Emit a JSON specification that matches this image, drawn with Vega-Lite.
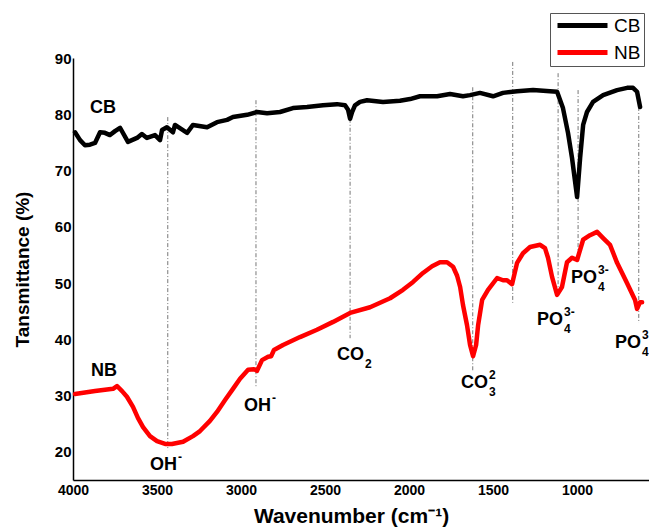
{
  "$schema": "https://vega.github.io/schema/vega-lite/v6.json",
  "width": 576,
  "height": 422,
  "autosize": {"type": "none"},
  "padding": {"left": 73, "top": 58, "right": 0, "bottom": 48},
  "background": "white",
  "config": {
    "view": {"stroke": null},
    "font": "Liberation Sans",
    "axis": {
      "grid": false, "ticks": false, "domainColor": "#000", "domainWidth": 1.5,
      "labelFont": "Liberation Sans", "labelFontWeight": "bold", "labelFontSize": 14, "labelColor": "#000",
      "titleFont": "Liberation Sans", "titleFontWeight": "bold", "titleFontSize": 19, "titleColor": "#000"
    },
    "legend": {
      "orient": "none", "legendX": 477, "legendY": -45, "strokeColor": "#555", "padding": 3,
      "symbolType": "M-1,0H9", "symbolSize": 100, "symbolStrokeWidth": 5, "symbolOffset": 0,
      "labelOffset": 42, "rowPadding": 6,
      "labelFont": "Liberation Sans", "labelFontSize": 19, "labelColor": "#000", "title": null
    }
  },
  "datasets": {
    "spectra": [
      {"series":"CB","wavenumber":3988,"transmittance":76.8},{"series":"CB","wavenumber":3958,"transmittance":75.4},{"series":"CB","wavenumber":3929,"transmittance":74.5},{"series":"CB","wavenumber":3899,"transmittance":74.6},{"series":"CB","wavenumber":3869,"transmittance":74.9},{"series":"CB","wavenumber":3839,"transmittance":76.8},{"series":"CB","wavenumber":3810,"transmittance":76.7},{"series":"CB","wavenumber":3780,"transmittance":76.3},{"series":"CB","wavenumber":3750,"transmittance":77.0},{"series":"CB","wavenumber":3720,"transmittance":77.6},{"series":"CB","wavenumber":3673,"transmittance":75.1},{"series":"CB","wavenumber":3619,"transmittance":75.8},{"series":"CB","wavenumber":3590,"transmittance":76.5},{"series":"CB","wavenumber":3560,"transmittance":75.8},{"series":"CB","wavenumber":3512,"transmittance":76.3},{"series":"CB","wavenumber":3482,"transmittance":75.4},{"series":"CB","wavenumber":3470,"transmittance":77.2},{"series":"CB","wavenumber":3441,"transmittance":77.7},{"series":"CB","wavenumber":3405,"transmittance":76.8},{"series":"CB","wavenumber":3393,"transmittance":78.1},{"series":"CB","wavenumber":3321,"transmittance":76.7},{"series":"CB","wavenumber":3286,"transmittance":78.1},{"series":"CB","wavenumber":3202,"transmittance":77.7},{"series":"CB","wavenumber":3143,"transmittance":78.6},{"series":"CB","wavenumber":3083,"transmittance":79.0},{"series":"CB","wavenumber":3048,"transmittance":79.5},{"series":"CB","wavenumber":2964,"transmittance":79.9},{"series":"CB","wavenumber":2905,"transmittance":80.4},{"series":"CB","wavenumber":2845,"transmittance":80.2},{"series":"CB","wavenumber":2768,"transmittance":80.4},{"series":"CB","wavenumber":2691,"transmittance":81.1},{"series":"CB","wavenumber":2607,"transmittance":81.3},{"series":"CB","wavenumber":2512,"transmittance":81.6},{"series":"CB","wavenumber":2429,"transmittance":81.8},{"series":"CB","wavenumber":2381,"transmittance":81.6},{"series":"CB","wavenumber":2363,"transmittance":80.8},{"series":"CB","wavenumber":2351,"transmittance":79.2},{"series":"CB","wavenumber":2339,"transmittance":80.4},{"series":"CB","wavenumber":2322,"transmittance":81.6},{"series":"CB","wavenumber":2292,"transmittance":82.2},{"series":"CB","wavenumber":2250,"transmittance":82.5},{"series":"CB","wavenumber":2155,"transmittance":82.2},{"series":"CB","wavenumber":2054,"transmittance":82.4},{"series":"CB","wavenumber":1994,"transmittance":82.7},{"series":"CB","wavenumber":1935,"transmittance":83.2},{"series":"CB","wavenumber":1833,"transmittance":83.2},{"series":"CB","wavenumber":1756,"transmittance":83.6},{"series":"CB","wavenumber":1679,"transmittance":83.2},{"series":"CB","wavenumber":1637,"transmittance":83.4},{"series":"CB","wavenumber":1578,"transmittance":83.8},{"series":"CB","wavenumber":1500,"transmittance":83.2},{"series":"CB","wavenumber":1441,"transmittance":83.8},{"series":"CB","wavenumber":1357,"transmittance":84.1},{"series":"CB","wavenumber":1262,"transmittance":84.3},{"series":"CB","wavenumber":1161,"transmittance":84.1},{"series":"CB","wavenumber":1119,"transmittance":84.0},{"series":"CB","wavenumber":1084,"transmittance":81.1},{"series":"CB","wavenumber":1054,"transmittance":76.7},{"series":"CB","wavenumber":1030,"transmittance":72.2},{"series":"CB","wavenumber":1000,"transmittance":65.3},{"series":"CB","wavenumber":982,"transmittance":72.2},{"series":"CB","wavenumber":964,"transmittance":78.1},{"series":"CB","wavenumber":941,"transmittance":80.4},{"series":"CB","wavenumber":905,"transmittance":82.2},{"series":"CB","wavenumber":845,"transmittance":83.4},{"series":"CB","wavenumber":762,"transmittance":84.3},{"series":"CB","wavenumber":702,"transmittance":84.7},{"series":"CB","wavenumber":667,"transmittance":84.7},{"series":"CB","wavenumber":643,"transmittance":84.0},{"series":"CB","wavenumber":625,"transmittance":81.3},
      {"series":"NB","wavenumber":3988,"transmittance":30.3},{"series":"NB","wavenumber":3869,"transmittance":30.8},{"series":"NB","wavenumber":3762,"transmittance":31.2},{"series":"NB","wavenumber":3738,"transmittance":31.7},{"series":"NB","wavenumber":3708,"transmittance":30.8},{"series":"NB","wavenumber":3679,"transmittance":29.8},{"series":"NB","wavenumber":3643,"transmittance":28.0},{"series":"NB","wavenumber":3613,"transmittance":26.0},{"series":"NB","wavenumber":3583,"transmittance":24.4},{"series":"NB","wavenumber":3542,"transmittance":22.8},{"series":"NB","wavenumber":3500,"transmittance":21.9},{"series":"NB","wavenumber":3452,"transmittance":21.4},{"series":"NB","wavenumber":3411,"transmittance":21.4},{"series":"NB","wavenumber":3345,"transmittance":21.8},{"series":"NB","wavenumber":3286,"transmittance":22.8},{"series":"NB","wavenumber":3244,"transmittance":23.7},{"series":"NB","wavenumber":3185,"transmittance":25.5},{"series":"NB","wavenumber":3143,"transmittance":27.1},{"series":"NB","wavenumber":3095,"transmittance":29.2},{"series":"NB","wavenumber":3048,"transmittance":31.2},{"series":"NB","wavenumber":3006,"transmittance":33.0},{"series":"NB","wavenumber":2958,"transmittance":34.6},{"series":"NB","wavenumber":2923,"transmittance":34.7},{"series":"NB","wavenumber":2905,"transmittance":34.4},{"series":"NB","wavenumber":2875,"transmittance":36.3},{"series":"NB","wavenumber":2839,"transmittance":36.9},{"series":"NB","wavenumber":2821,"transmittance":37.0},{"series":"NB","wavenumber":2804,"transmittance":38.1},{"series":"NB","wavenumber":2750,"transmittance":39.0},{"series":"NB","wavenumber":2649,"transmittance":40.4},{"series":"NB","wavenumber":2548,"transmittance":41.7},{"series":"NB","wavenumber":2452,"transmittance":43.1},{"series":"NB","wavenumber":2351,"transmittance":44.7},{"series":"NB","wavenumber":2232,"transmittance":45.7},{"series":"NB","wavenumber":2113,"transmittance":47.3},{"series":"NB","wavenumber":2036,"transmittance":48.8},{"series":"NB","wavenumber":1976,"transmittance":50.2},{"series":"NB","wavenumber":1917,"transmittance":51.8},{"series":"NB","wavenumber":1863,"transmittance":53.0},{"series":"NB","wavenumber":1816,"transmittance":53.7},{"series":"NB","wavenumber":1774,"transmittance":53.7},{"series":"NB","wavenumber":1738,"transmittance":52.9},{"series":"NB","wavenumber":1714,"transmittance":51.3},{"series":"NB","wavenumber":1696,"transmittance":49.3},{"series":"NB","wavenumber":1679,"transmittance":46.1},{"series":"NB","wavenumber":1655,"transmittance":42.5},{"series":"NB","wavenumber":1637,"transmittance":39.0},{"series":"NB","wavenumber":1619,"transmittance":37.0},{"series":"NB","wavenumber":1601,"transmittance":39.0},{"series":"NB","wavenumber":1589,"transmittance":42.5},{"series":"NB","wavenumber":1565,"transmittance":47.0},{"series":"NB","wavenumber":1530,"transmittance":48.8},{"series":"NB","wavenumber":1476,"transmittance":50.9},{"series":"NB","wavenumber":1441,"transmittance":50.5},{"series":"NB","wavenumber":1417,"transmittance":50.5},{"series":"NB","wavenumber":1387,"transmittance":49.8},{"series":"NB","wavenumber":1357,"transmittance":53.6},{"series":"NB","wavenumber":1322,"transmittance":55.3},{"series":"NB","wavenumber":1280,"transmittance":56.4},{"series":"NB","wavenumber":1220,"transmittance":56.8},{"series":"NB","wavenumber":1191,"transmittance":56.2},{"series":"NB","wavenumber":1173,"transmittance":54.5},{"series":"NB","wavenumber":1149,"transmittance":51.1},{"series":"NB","wavenumber":1119,"transmittance":47.9},{"series":"NB","wavenumber":1090,"transmittance":49.3},{"series":"NB","wavenumber":1060,"transmittance":53.7},{"series":"NB","wavenumber":1030,"transmittance":54.5},{"series":"NB","wavenumber":1000,"transmittance":54.1},{"series":"NB","wavenumber":964,"transmittance":57.7},{"series":"NB","wavenumber":923,"transmittance":58.5},{"series":"NB","wavenumber":881,"transmittance":59.1},{"series":"NB","wavenumber":845,"transmittance":58.0},{"series":"NB","wavenumber":804,"transmittance":56.8},{"series":"NB","wavenumber":762,"transmittance":53.6},{"series":"NB","wavenumber":703,"transmittance":50.0},{"series":"NB","wavenumber":655,"transmittance":47.0},{"series":"NB","wavenumber":643,"transmittance":45.4},{"series":"NB","wavenumber":625,"transmittance":46.6},{"series":"NB","wavenumber":613,"transmittance":46.6}
    ],
    "guides": [
      {"wavenumber":3436,"top":79.5,"bottom":20.3},
      {"wavenumber":2911,"top":82.5,"bottom":31.4},
      {"wavenumber":2351,"top":79.2,"bottom":40.2},
      {"wavenumber":1621,"top":84.8,"bottom":34.5},
      {"wavenumber":1383,"top":89.3,"bottom":46.5},
      {"wavenumber":1113,"top":87.3,"bottom":48.2},
      {"wavenumber":994,"top":84.3,"bottom":54.1},
      {"wavenumber":633,"top":81.3,"bottom":42.9}
    ],
    "names": [
      {"wavenumber":3821,"transmittance":81.1,"text":"CB"},
      {"wavenumber":3815,"transmittance":34.4,"text":"NB"}
    ],
    "bands": [
      {"wavenumber":3381,"transmittance":17.7,"main":"OH","sub":"","sup":"-"},
      {"wavenumber":2821,"transmittance":28.2,"main":"OH","sub":"","sup":"-"},
      {"wavenumber":2268,"transmittance":37.2,"main":"CO","sub":"2","sup":""},
      {"wavenumber":1530,"transmittance":32.2,"main":"CO","sub":"3","sup":"2"},
      {"wavenumber":1084,"transmittance":43.4,"main":"PO","sub":"4","sup":"3-"},
      {"wavenumber":881,"transmittance":50.9,"main":"PO","sub":"4","sup":"3-"},
      {"wavenumber":619,"transmittance":39.3,"main":"PO","sub":"4","sup":"3"}
    ]
  },
  "encoding": {
    "x": {"field": "wavenumber", "type": "quantitative",
      "scale": {"domain": [4000, 572], "nice": false, "zero": false},
      "axis": {"values": [4000,3500,3000,2500,2000,1500,1000], "title": "Wavenumber (cm⁻¹)", "titleFontSize": 21, "titleX": 278, "labelPadding": 3, "titlePadding": 8, "format": "d", "labelFlush": false}},
    "y": {"field": "transmittance", "type": "quantitative",
      "scale": {"domain": [15, 90], "nice": false, "zero": false},
      "axis": {"values": [20,30,40,50,60,70,80,90], "title": "Tansmittance (%)", "labelFontSize": 15, "labelPadding": 2, "titlePadding": 22, "labelFlush": false}}
  },
  "layer": [
    {"data": {"name": "guides"}, "mark": {"type": "rule", "color": "#777", "strokeWidth": 1, "strokeDash": [4, 2, 1, 2]},
      "encoding": {"y": {"field": "top", "type": "quantitative"}, "y2": {"field": "bottom"}}},
    {"data": {"name": "spectra"}, "mark": {"type": "line", "strokeWidth": 4.5, "strokeJoin": "round", "strokeCap": "round"},
      "encoding": {"color": {"field": "series", "type": "nominal", "scale": {"domain": ["CB","NB"], "range": ["#000000","#ff0000"]}, "legend": {}}}},
    {"data": {"name": "names"}, "mark": {"type": "text", "fontSize": 18, "fontWeight": "bold", "color": "#000", "align": "center", "baseline": "middle"},
      "encoding": {"text": {"field": "text"}}},
    {"data": {"name": "bands"}, "mark": {"type": "text", "fontSize": 18, "fontWeight": "bold", "color": "#000", "align": "right", "baseline": "middle"},
      "encoding": {"text": {"field": "main"}}},
    {"data": {"name": "bands"}, "mark": {"type": "text", "fontSize": 12, "fontWeight": "bold", "color": "#000", "align": "left", "baseline": "middle", "dx": 1, "dy": 9},
      "encoding": {"text": {"field": "sub"}}},
    {"data": {"name": "bands"}, "mark": {"type": "text", "fontSize": 12, "fontWeight": "bold", "color": "#000", "align": "left", "baseline": "middle", "dx": 1, "dy": -8},
      "encoding": {"text": {"field": "sup"}}}
  ]
}
